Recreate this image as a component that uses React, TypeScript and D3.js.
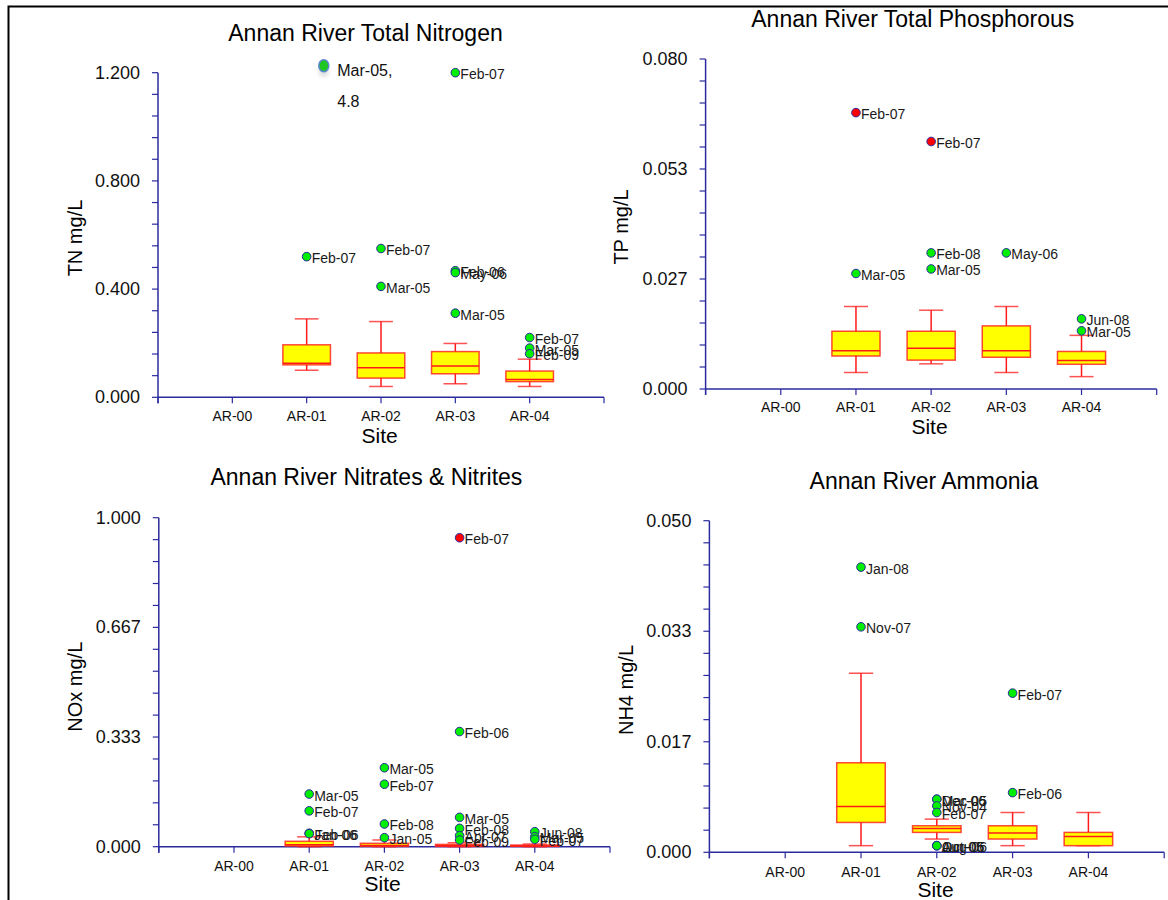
import * as d3 from "d3";

const sites = ["AR-00", "AR-01", "AR-02", "AR-03", "AR-04"];

// box stats per site: [min, q1, median, q3, max]
const tnBoxes = [
  { site: "AR-01", min: 0.1, q1: 0.12, med: 0.126, q3: 0.194, max: 0.29 },
  { site: "AR-02", min: 0.04, q1: 0.071, med: 0.109, q3: 0.164, max: 0.28 },
  { site: "AR-03", min: 0.05, q1: 0.087, med: 0.116, q3: 0.169, max: 0.199 },
  { site: "AR-04", min: 0.04, q1: 0.058, med: 0.066, q3: 0.097, max: 0.141 },
];
const tnOutliers = [
  { site: "AR-01", v: 0.52, label: "Feb-07" },
  { site: "AR-02", v: 0.55, label: "Feb-07" },
  { site: "AR-02", v: 0.41, label: "Mar-05" },
  { site: "AR-03", v: 1.2, label: "Feb-07" },
  { site: "AR-03", v: 0.468, label: "Feb-06" },
  { site: "AR-03", v: 0.461, label: "May-06" },
  { site: "AR-03", v: 0.311, label: "Mar-05" },
  { site: "AR-04", v: 0.221, label: "Feb-07" },
  { site: "AR-04", v: 0.182, label: "Mar-05" },
  { site: "AR-04", v: 0.161, label: "Feb-09" },
];
const tnOffScale = { site: "AR-01", v: 4.8, label: "Mar-05," };

const tpBoxes = [
  { site: "AR-01", min: 0.004, q1: 0.008, med: 0.0093, q3: 0.014, max: 0.02 },
  { site: "AR-02", min: 0.0061, q1: 0.007, med: 0.0099, q3: 0.014, max: 0.0191 },
  { site: "AR-03", min: 0.004, q1: 0.0077, med: 0.0093, q3: 0.0153, max: 0.02 },
  { site: "AR-04", min: 0.003, q1: 0.006, med: 0.0069, q3: 0.0091, max: 0.013 },
];
const tpOutliers = [
  { site: "AR-01", v: 0.067, label: "Feb-07", extreme: true },
  { site: "AR-01", v: 0.028, label: "Mar-05" },
  { site: "AR-02", v: 0.06, label: "Feb-07", extreme: true },
  { site: "AR-02", v: 0.033, label: "Feb-08" },
  { site: "AR-02", v: 0.0291, label: "Mar-05" },
  { site: "AR-03", v: 0.033, label: "May-06" },
  { site: "AR-04", v: 0.017, label: "Jun-08" },
  { site: "AR-04", v: 0.0141, label: "Mar-05" },
];

const noxBoxes = [
  { site: "AR-01", min: 0, q1: 0.002, med: 0.006, q3: 0.0164, max: 0.03 },
  { site: "AR-02", min: 0, q1: 0.001, med: 0.004, q3: 0.0103, max: 0.0204 },
  { site: "AR-03", min: 0, q1: 0.001, med: 0.003, q3: 0.007, max: 0.012 },
  { site: "AR-04", min: 0, q1: 0.001, med: 0.002, q3: 0.005, max: 0.008 },
];
const noxOutliers = [
  { site: "AR-01", v: 0.16, label: "Mar-05" },
  { site: "AR-01", v: 0.109, label: "Feb-07" },
  { site: "AR-01", v: 0.0407, label: "Jan-06" },
  { site: "AR-01", v: 0.0397, label: "Feb-06" },
  { site: "AR-02", v: 0.24, label: "Mar-05" },
  { site: "AR-02", v: 0.19, label: "Feb-07" },
  { site: "AR-02", v: 0.069, label: "Feb-08" },
  { site: "AR-02", v: 0.0274, label: "Jan-05" },
  { site: "AR-03", v: 0.939, label: "Feb-07", extreme: true },
  { site: "AR-03", v: 0.35, label: "Feb-06" },
  { site: "AR-03", v: 0.0893, label: "Mar-05" },
  { site: "AR-03", v: 0.0558, label: "Feb-08" },
  { site: "AR-03", v: 0.0334, label: "Apr-07" },
  { site: "AR-03", v: 0.0203, label: "Feb-09" },
  { site: "AR-04", v: 0.0456, label: "Jun-08" },
  { site: "AR-04", v: 0.0304, label: "Mar-05" },
  { site: "AR-04", v: 0.0225, label: "Feb-07" },
];

const nh4Boxes = [
  { site: "AR-01", min: 0.001, q1: 0.0045, med: 0.0069, q3: 0.0135, max: 0.027 },
  { site: "AR-02", min: 0.002, q1: 0.003, med: 0.0036, q3: 0.004, max: 0.005 },
  { site: "AR-03", min: 0.001, q1: 0.002, med: 0.0029, q3: 0.004, max: 0.006 },
  { site: "AR-04", min: 0.001, q1: 0.001, med: 0.0024, q3: 0.003, max: 0.006 },
];
const nh4Outliers = [
  { site: "AR-01", v: 0.043, label: "Jan-08" },
  { site: "AR-01", v: 0.034, label: "Nov-07" },
  { site: "AR-02", v: 0.008, label: "Mar-06" },
  { site: "AR-02", v: 0.008, label: "Dec-05" },
  { site: "AR-02", v: 0.007, label: "Nov-04" },
  { site: "AR-02", v: 0.006, label: "Feb-07" },
  { site: "AR-02", v: 0.001, label: "Oct-05" },
  { site: "AR-02", v: 0.001, label: "Aug-06" },
  { site: "AR-02", v: 0.001, label: "Jun-06" },
  { site: "AR-03", v: 0.024, label: "Feb-07" },
  { site: "AR-03", v: 0.009, label: "Feb-06" },
];

const FONT = "Arial, 'Liberation Sans', Helvetica, sans-serif";
const AXIS = "#2b2b9e";
const RED = "#ff1a1a";

type Box = { site: string; min: number; q1: number; med: number; q3: number; max: number };
type Out = { site: string; v: number; label: string; extreme?: boolean };

type PanelProps = {
  title: string;
  yLabel: string;
  yMax: number;
  boxes: Box[];
  outliers: Out[];
  // layout
  x0: number; x1: number; yTop: number; yBot: number;
  titleX: number; titleY: number;
  yLabelX: number; yLabelY: number;
  catY: number; siteX: number; siteY: number;
  offScale?: Out;
};

function Panel(p: PanelProps) {
  const x = d3.scaleLinear().domain([0, sites.length + 1]).range([p.x0, p.x1]);
  const y = d3.scaleLinear().domain([0, p.yMax]).range([p.yBot, p.yTop]);
  const step = x(1) - x(0);
  const bw = step * 0.32;
  const cw = step * 0.16;
  const xi = (s: string) => x(sites.indexOf(s) + 1);
  const major = d3.range(0, 4).map((i) => (p.yMax * i) / 3);
  const minor = d3.range(0, 16).map((i) => (p.yMax * i) / 15);
  const xt = d3.range(0, sites.length + 2);

  return (
    <g>
      <text x={p.titleX} y={p.titleY} textAnchor="middle" dominantBaseline="central" fontSize={23} fill="#000">
        {p.title}
      </text>
      <text
        transform={`translate(${p.yLabelX},${p.yLabelY}) rotate(-90)`}
        textAnchor="middle"
        dominantBaseline="central"
        fontSize={20}
      >
        {p.yLabel}
      </text>
      {/* y axis */}
      <line x1={p.x0} x2={p.x0} y1={y(p.yMax)} y2={p.yBot + 6} stroke={AXIS} strokeWidth={1.5} />
      {minor.map((t, i) => (
        <line key={"m" + i} x1={p.x0 - 6} x2={p.x0} y1={y(t)} y2={y(t)} stroke={AXIS} strokeWidth={1.2} />
      ))}
      {major.map((t, i) => (
        <text key={"l" + i} x={p.x0 - 18} y={y(t)} textAnchor="end" dominantBaseline="central" fontSize={18} fill="#111">
          {t.toFixed(3)}
        </text>
      ))}
      {/* x axis */}
      <line x1={p.x0} x2={p.x1} y1={p.yBot} y2={p.yBot} stroke={AXIS} strokeWidth={1.5} />
      {xt.map((t) => (
        <line key={"x" + t} x1={x(t)} x2={x(t)} y1={p.yBot} y2={p.yBot + 6} stroke={AXIS} strokeWidth={1.2} />
      ))}
      {sites.map((s, i) => (
        <text key={s} x={x(i + 1)} y={p.catY} textAnchor="middle" dominantBaseline="central" fontSize={14} fill="#111">
          {s}
        </text>
      ))}
      <text x={p.siteX} y={p.siteY} textAnchor="middle" dominantBaseline="central" fontSize={21}>
        Site
      </text>
      {/* boxes */}
      {p.boxes.map((b) => {
        const cx = xi(b.site);
        return (
          <g key={b.site} stroke={RED} strokeWidth={1.5}>
            <line x1={cx} x2={cx} y1={y(b.max)} y2={y(b.q3)} />
            <line x1={cx} x2={cx} y1={y(b.q1)} y2={y(b.min)} />
            <line x1={cx - cw} x2={cx + cw} y1={y(b.max)} y2={y(b.max)} strokeOpacity={0.75} />
            <line x1={cx - cw} x2={cx + cw} y1={y(b.min)} y2={y(b.min)} strokeOpacity={0.75} />
            <rect
              x={cx - bw}
              y={y(b.q3)}
              width={bw * 2}
              height={Math.max(y(b.q1) - y(b.q3), 1)}
              fill="#ffff00"
              strokeOpacity={0.8}
            />
            <line x1={cx - bw} x2={cx + bw} y1={y(b.med)} y2={y(b.med)} />
          </g>
        );
      })}
      {/* outliers */}
      {p.outliers.map((o, i) => {
        const cx = xi(o.site);
        const cy = y(o.v);
        return (
          <g key={"o" + i}>
            <circle cx={cx} cy={cy} r={4.3} fill={o.extreme ? "#ff0000" : "#00ee00"} stroke="#2a2a9a" strokeWidth={1} />
            <text x={cx + 5} y={cy + 1.5} dominantBaseline="central" fontSize={14} fill="#1a1a1a">
              {o.label}
            </text>
          </g>
        );
      })}
      {p.offScale && (() => {
        const o = p.offScale!;
        const cx = x(sites.indexOf(o.site) + 1.23);
        const cy = y(p.yMax) - 7;
        return (
          <g>
            <ellipse cx={cx} cy={cy + 5} rx={5} ry={6} fill="#999" opacity={0.35} filter="url(#blur)" />
            <ellipse cx={cx} cy={cy} rx={5} ry={6} fill="#1fc61f" stroke="#5a86d0" strokeWidth={1.5} />
            <text x={cx + 13.5} y={cy + 5} dominantBaseline="central" fontSize={16} fill="#111">
              {o.label}
            </text>
            <text x={cx + 13.5} y={cy + 36} dominantBaseline="central" fontSize={16} fill="#111">
              {String(o.v)}
            </text>
          </g>
        );
      })()}
    </g>
  );
}

export default function App() {
  return (
    <svg
      width={1168}
      height={900}
      style={{ position: "absolute", left: 0, top: 0, background: "#fff" }}
      fontFamily={FONT}
    >
      <defs>
        <filter id="blur" x="-50%" y="-50%" width="200%" height="200%">
          <feGaussianBlur stdDeviation={2} />
        </filter>
      </defs>
      <rect width={1168} height={900} fill="#fff" />
      <path d="M8.5,900 V6.5 H1168" fill="none" stroke="#000" strokeWidth={2} />
      <Panel
        title="Annan River Total Nitrogen"
        yLabel="TN mg/L"
        yMax={1.2}
        boxes={tnBoxes}
        outliers={tnOutliers}
        offScale={tnOffScale}
        x0={158} x1={604} yTop={72.7} yBot={397.3}
        titleX={365.5} titleY={33.3}
        yLabelX={75.4} yLabelY={238}
        catY={416} siteX={379.6} siteY={435}
      />
      <Panel
        title="Annan River Total Phosphorous"
        yLabel="TP mg/L"
        yMax={0.08}
        boxes={tpBoxes}
        outliers={tpOutliers}
        x0={705.6} x1={1156.7} yTop={59} yBot={389}
        titleX={912.8} titleY={19}
        yLabelX={621} yLabelY={227}
        catY={407.3} siteX={929.5} siteY={426.7}
      />
      <Panel
        title="Annan River Nitrates & Nitrites"
        yLabel="NOx mg/L"
        yMax={1.0}
        boxes={noxBoxes}
        outliers={noxOutliers}
        x0={158.8} x1={610} yTop={517.7} yBot={846.7}
        titleX={366.4} titleY={477.3}
        yLabelX={75.4} yLabelY={686.7}
        catY={866} siteX={382.7} siteY={883.3}
      />
      <Panel
        title="Annan River Ammonia"
        yLabel="NH4 mg/L"
        yMax={0.05}
        boxes={nh4Boxes}
        outliers={nh4Outliers}
        x0={709.4} x1={1164.2} yTop={520.7} yBot={852.3}
        titleX={924} titleY={480.7}
        yLabelX={625.7} yLabelY={690}
        catY={871.7} siteX={935.5} siteY={889.3}
      />
    </svg>
  );
}
